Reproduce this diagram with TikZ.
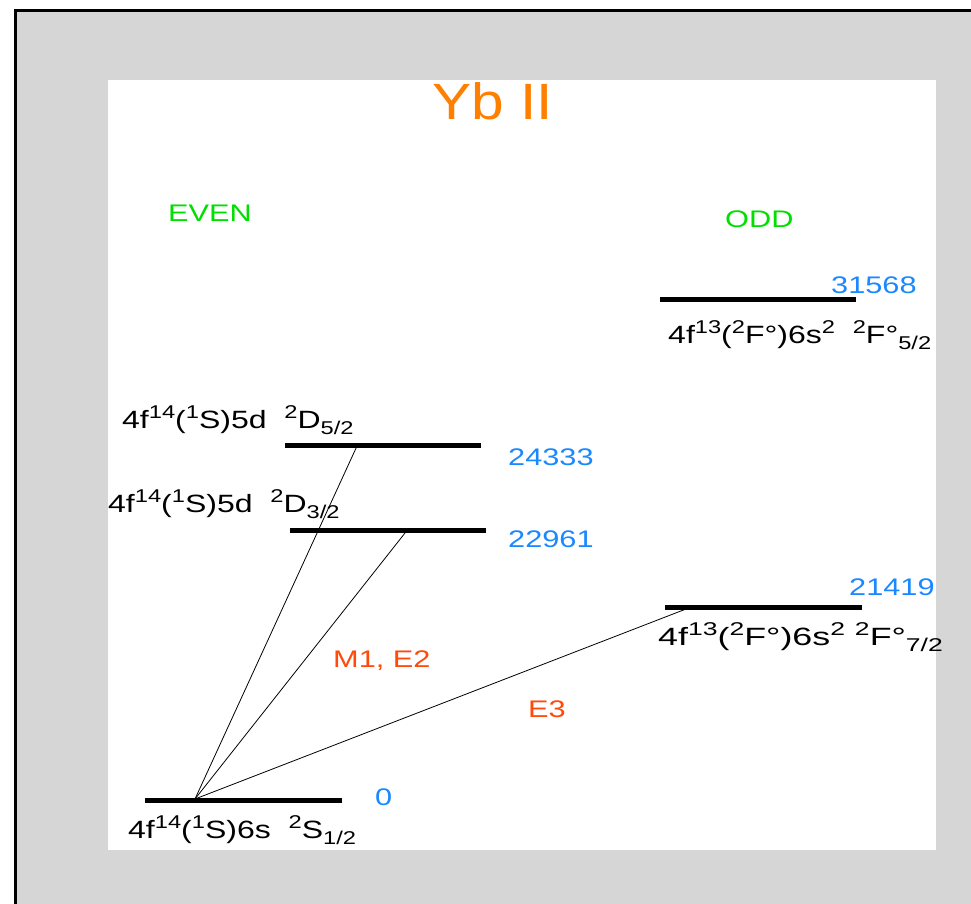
\documentclass[tikz,border=0pt]{standalone}
\usepackage{fontspec}
\setmainfont{Liberation Sans}[FakeStretch=1.28]
\newfontfamily\titlefont{Liberation Sans}[FakeStretch=1.15]
\definecolor{bggray}{HTML}{D6D6D6}
\definecolor{titleorange}{HTML}{FF7F00}
\definecolor{pargreen}{HTML}{00E000}
\definecolor{enblue}{HTML}{1A88FF}
\definecolor{trred}{HTML}{FF4A0A}
\newcommand\up[1]{\raisebox{0.40em}{\fontsize{18.5}{18.5}\selectfont #1}}
\newcommand\dn[1]{\raisebox{-0.24em}{\fontsize{18.5}{18.5}\selectfont #1}}
\begin{document}
\begin{tikzpicture}[x=1pt,y=-1pt,
  lvl/.style={line width=5pt},
  trans/.style={line width=0.8pt},
  lab/.style={anchor=base west,inner sep=0pt,font=\fontsize{24}{24}\selectfont},
  config/.style={lab,font=\fontsize{25}{25}\selectfont},
  energy/.style={lab,text=enblue},
  parity/.style={lab,text=pargreen},
  trname/.style={lab,text=trred}]
\useasboundingbox (0,0) rectangle (971,904);
\fill[bggray] (15,11) rectangle (971,904);
\draw[line width=3pt] (15,904) -- (15,11) -- (971,11);
\fill[white] (108,80) rectangle (936,850);
% title
\node[anchor=base west,inner sep=0pt,text=titleorange,font=\titlefont\fontsize{51}{51}\selectfont] (title) at (432,120) {Yb II};
\node[parity] (even) at (168,221) {EVEN};
\node[parity] (odd) at (725,227) {ODD};
% levels
\draw[lvl] (145,800) coordinate (g0) -- (342,800) coordinate (g1);
\draw[lvl] (290,530) coordinate (a0) -- (486,530) coordinate (a1);
\draw[lvl] (285,445) coordinate (b0) -- (481,445) coordinate (b1);
\draw[lvl] (665,607) coordinate (c0) -- (862,607) coordinate (c1);
\draw[lvl] (660,299) coordinate (d0) -- (856,299) coordinate (d1);
% energies
\node[energy] (e0) at (375,805) {0};
\node[energy] (e1) at (508,547) {22961};
\node[energy] (e2) at (508,465) {24333};
\node[energy] (e3) at (849,595) {21419};
\node[energy] (e4) at (831,293) {31568};
% configurations
\node[config] (s0) at (128,838) {4f\up{14}(\up{1}S)6s\ \ \up{2}S\dn{1/2}};
\node[config] (s1) at (108,512) {4f\up{14}(\up{1}S)5d\ \ \up{2}D\dn{3/2}};
\node[config] (s2) at (122,428) {4f\up{14}(\up{1}S)5d\ \ \up{2}D\dn{5/2}};
\node[config] (s3) at (658,645) {\scalebox{1.12}[1]{4f\up{13}(\up{2}F°)6s\up{2}\ \up{2}F°\dn{7/2}}};
\node[config] (s4) at (668,343) {4f\up{13}(\up{2}F°)6s\up{2}\ \ \up{2}F°\dn{5/2}};
% transitions
\coordinate (t0) at (195,799);
\coordinate (t1) at (357,446);
\coordinate (t2) at (405,533);
\coordinate (t3) at (686,609);
\draw[trans] (t0) -- (t1);
\draw[trans] (t0) -- (t2);
\draw[trans] (t0) -- (t3);
\node[trname] (m1) at (333,667) {M1, E2};
\node[trname] (e3l) at (528,717) {E3};
\end{tikzpicture}
\end{document}
